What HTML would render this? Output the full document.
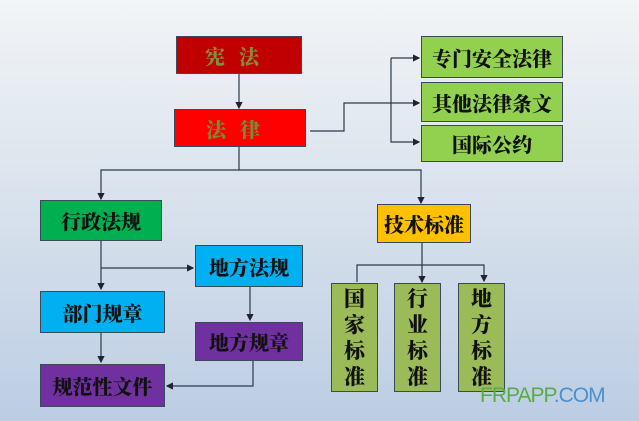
<!DOCTYPE html>
<html><head><meta charset="utf-8"><style>
body{margin:0;width:639px;height:421px;overflow:hidden;background:linear-gradient(#f2f4f6 0%,#dde5ee 40%,#bccde3 100%);font-family:"Liberation Serif","Noto Serif CJK SC",serif;}
.b{position:absolute;box-sizing:border-box;border:1.5px solid #3a4a5a;display:flex;align-items:center;justify-content:center;font-weight:900;font-size:20px;color:#111;}
.v{flex-direction:column;font-size:21px;line-height:26px;}
svg{position:absolute;left:0;top:0}
</style></head><body>
<svg width="639" height="421">
<defs><marker id="a" markerWidth="6" markerHeight="6" refX="5" refY="3" orient="auto"><path d="M0,0L6,3L0,6z" fill="#223"/></marker></defs>
<g stroke="#2b3a4a" stroke-width="1.2" fill="none">
<path d="M239,74V108" marker-end="url(#a)"/>
<path d="M310,131H344V103H419" marker-end="url(#a)"/>
<path d="M391,58H419" marker-end="url(#a)"/>
<path d="M391,58V142H419" marker-end="url(#a)"/>
<path d="M239,147V170H101V199" marker-end="url(#a)"/>
<path d="M239,170H421V203" marker-end="url(#a)"/>
<path d="M101,241V289" marker-end="url(#a)"/>
<path d="M101,268H193" marker-end="url(#a)"/>
<path d="M101,333V362" marker-end="url(#a)"/>
<path d="M250,287V320" marker-end="url(#a)"/>
<path d="M253,361V386H167" marker-end="url(#a)"/>
<path d="M422,243V282" marker-end="url(#a)"/>
<path d="M357,282V265H484V281" marker-end="url(#a)"/>
</g></svg>
<div class="b" style="left:176px;top:36px;width:126px;height:38px;background:#c00000;color:#8a8a3a;letter-spacing:14px;">宪法</div>
<div class="b" style="left:174px;top:109px;width:132px;height:38px;background:#ff0000;color:#7a8a3a;letter-spacing:14px;">法律</div>
<div class="b" style="left:421px;top:36px;width:142px;height:42px;background:#92d050;">专门安全法律</div>
<div class="b" style="left:421px;top:82px;width:142px;height:40px;background:#92d050;">其他法律条文</div>
<div class="b" style="left:421px;top:125px;width:142px;height:37px;background:#92d050;">国际公约</div>
<div class="b" style="left:40px;top:200px;width:122px;height:41px;background:#00b050;">行政法规</div>
<div class="b" style="left:377px;top:204px;width:94px;height:39px;background:#ffc000;">技术标准</div>
<div class="b" style="left:195px;top:245px;width:108px;height:42px;background:#00b0f0;">地方法规</div>
<div class="b" style="left:40px;top:291px;width:125px;height:42px;background:#00b0f0;">部门规章</div>
<div class="b" style="left:195px;top:322px;width:108px;height:39px;background:#7030a0;">地方规章</div>
<div class="b" style="left:40px;top:364px;width:125px;height:43px;background:#7030a0;">规范性文件</div>
<div class="b v" style="left:331px;top:283px;width:47px;height:109px;background:#9bbb59;">国<span>家</span><span>标</span><span>准</span></div>
<div class="b v" style="left:394px;top:283px;width:47px;height:109px;background:#9bbb59;">行<span>业</span><span>标</span><span>准</span></div>
<div class="b v" style="left:458px;top:283px;width:47px;height:109px;background:#9bbb59;">地<span>方</span><span>标</span><span>准</span></div>
<div style="position:absolute;left:480px;top:384px;font-family:'Liberation Sans',sans-serif;font-size:21px;letter-spacing:-1px;color:#5aaa4a;">FRPAPP<span style="color:#4a90d0">.COM</span></div>
</body></html>
